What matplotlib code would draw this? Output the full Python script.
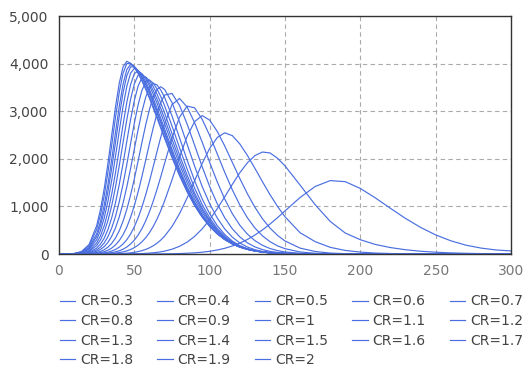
import matplotlib
matplotlib.use("Agg")
import matplotlib.pyplot as plt
from matplotlib.ticker import FuncFormatter, MultipleLocator

# x positions shared by every series
x = [0, 10, 15, 20, 25, 27.5, 30, 32.5, 35, 37.5, 40, 42.5, 45, 47.5, 50, 52.5, 55, 57.5,
     60, 62.5, 65, 67.5, 70, 75, 80, 85, 90, 95, 100, 105, 110, 115, 120, 125, 130, 135,
     140, 145, 150, 160, 170, 180, 190, 200, 210, 220, 230, 240, 250, 260, 270, 280, 290, 300]

labels = ["CR=0.3", "CR=0.4", "CR=0.5", "CR=0.6", "CR=0.7", "CR=0.8", "CR=0.9", "CR=1", "CR=1.1",
          "CR=1.2", "CR=1.3", "CR=1.4", "CR=1.5", "CR=1.6", "CR=1.7", "CR=1.8", "CR=1.9", "CR=2"]

cr03 = [0, 0, 0, 0, 0, 0, 0, 0, 0, 0, 0, 0, 0, 0, 0, 0, 0, 0,
        1, 1, 2, 3, 4, 6, 10, 16, 25, 38, 57, 84, 120, 168, 229, 305, 398, 506,
        629, 763, 906, 1188, 1419, 1543, 1520, 1377, 1178, 959, 747, 558, 401, 278, 186, 125, 85, 65]
cr04 = [0, 0, 0, 0, 0, 0, 0, 0, 0, 0, 0, 2, 3, 4, 5, 7, 10, 14,
        19, 26, 35, 46, 60, 101, 162, 250, 370, 528, 723, 951, 1203, 1462, 1708, 1917, 2068, 2143,
        2124, 2013, 1851, 1448, 1036, 684, 440, 300, 200, 135, 90, 58, 38, 24, 15, 9, 5, 3]
cr05 = [0, 0, 0, 0, 0, 0, 1, 2, 3, 5, 8, 12, 17, 25, 36, 51, 70, 96,
        130, 172, 226, 292, 372, 578, 848, 1176, 1539, 1902, 2220, 2447, 2547, 2488, 2313, 2073, 1801, 1520,
        1249, 1000, 782, 447, 260, 140, 75, 40, 20, 10, 5, 2, 0, 0, 0, 0, 0, 0]
cr06 = [0, 0, 0, 0, 2, 3, 5, 8, 13, 20, 30, 45, 66, 95, 134, 187, 255, 340,
        448, 577, 731, 908, 1108, 1559, 2037, 2470, 2782, 2909, 2813, 2578, 2269, 1928, 1587, 1267, 983, 742,
        546, 392, 274, 124, 53, 20, 7, 2, 0, 0, 0, 0, 0, 0, 0, 0, 0, 0]
cr07 = [0, 0, 0, 0, 4, 7, 11, 18, 29, 45, 68, 101, 147, 210, 292, 398, 531, 693,
        885, 1106, 1353, 1619, 1897, 2439, 2875, 3108, 3072, 2832, 2492, 2106, 1715, 1351, 1030, 762, 548, 383,
        260, 172, 112, 43, 15, 5, 1, 0, 0, 0, 0, 0, 0, 0, 0, 0, 0, 0]
cr08 = [0, 0, 0, 3, 9, 15, 24, 39, 62, 95, 144, 211, 301, 420, 572, 759, 982, 1240,
        1526, 1833, 2146, 2451, 2729, 3140, 3268, 3090, 2759, 2352, 1924, 1517, 1154, 849, 605, 419, 281, 183,
        116, 72, 43, 15, 4, 1, 0, 0, 0, 0, 0, 0, 0, 0, 0, 0, 0, 0]
cr09 = [0, 0, 2, 6, 17, 30, 49, 80, 125, 191, 282, 405, 566, 770, 1016, 1303, 1624, 1967,
        2316, 2649, 2945, 3182, 3340, 3374, 3122, 2734, 2286, 1835, 1418, 1057, 761, 531, 359, 235, 150, 93,
        56, 33, 19, 6, 2, 0, 0, 0, 0, 0, 0, 0, 0, 0, 0, 0, 0, 0]
cr10 = [0, 0, 3, 10, 32, 54, 90, 144, 224, 336, 489, 688, 938, 1238, 1581, 1954, 2339, 2708,
        3035, 3293, 3458, 3515, 3461, 3183, 2773, 2310, 1847, 1421, 1056, 758, 527, 355, 232, 147, 91, 54,
        33, 18, 10, 3, 1, 0, 0, 0, 0, 0, 0, 0, 0, 0, 0, 0, 0, 0]
cr11 = [0, 1, 5, 17, 56, 95, 155, 245, 374, 550, 780, 1068, 1410, 1795, 2205, 2612, 2985, 3290,
        3498, 3586, 3554, 3448, 3296, 2900, 2441, 1975, 1539, 1159, 845, 597, 409, 272, 176, 111, 68, 41,
        24, 14, 7, 2, 0, 0, 0, 0, 0, 0, 0, 0, 0, 0, 0, 0, 0, 0]
cr12 = [0, 2, 7, 26, 85, 143, 233, 365, 548, 791, 1099, 1467, 1882, 2321, 2751, 3134, 3433, 3614,
        3658, 3592, 3472, 3312, 3123, 2691, 2232, 1787, 1385, 1040, 759, 538, 370, 249, 163, 104, 65, 40,
        23, 14, 8, 2, 1, 0, 0, 0, 0, 0, 0, 0, 0, 0, 0, 0, 0, 0]
cr13 = [0, 2, 10, 38, 123, 207, 333, 515, 762, 1078, 1463, 1902, 2367, 2824, 3226, 3530, 3701, 3720,
        3645, 3522, 3363, 3176, 2971, 2529, 2081, 1659, 1284, 966, 708, 504, 351, 238, 157, 102, 65, 41,
        24, 15, 8, 3, 1, 0, 0, 0, 0, 0, 0, 0, 0, 0, 0, 0, 0, 0]
cr14 = [0, 3, 15, 56, 177, 294, 466, 705, 1018, 1407, 1857, 2342, 2822, 3250, 3575, 3759, 3780, 3709,
        3592, 3439, 3260, 3062, 2851, 2412, 1978, 1577, 1224, 926, 682, 491, 345, 238, 160, 105, 68, 43,
        26, 16, 10, 3, 1, 0, 0, 0, 0, 0, 0, 0, 0, 0, 0, 0, 0, 0]
cr15 = [0, 4, 20, 74, 231, 380, 594, 887, 1261, 1710, 2208, 2717, 3186, 3560, 3791, 3848, 3789, 3681,
        3536, 3364, 3171, 2964, 2748, 2308, 1884, 1496, 1158, 875, 645, 465, 327, 226, 152, 101, 65, 42,
        26, 16, 9, 3, 1, 0, 0, 0, 0, 0, 0, 0, 0, 0, 0, 0, 0, 0]
cr16 = [0, 5, 26, 97, 301, 489, 756, 1111, 1550, 2055, 2588, 3097, 3520, 3801, 3900, 3856, 3758, 3623,
        3458, 3271, 3068, 2855, 2637, 2202, 1789, 1416, 1094, 825, 609, 439, 310, 214, 145, 96, 63, 42,
        25, 16, 9, 3, 1, 0, 0, 0, 0, 0, 0, 0, 0, 0, 0, 0, 0, 0]
cr17 = [0, 7, 32, 120, 368, 594, 907, 1315, 1805, 2348, 2896, 3384, 3747, 3933, 3932, 3854, 3734, 3582,
        3406, 3211, 3004, 2789, 2571, 2141, 1737, 1375, 1063, 803, 594, 429, 305, 212, 145, 98, 64, 42,
        26, 16, 10, 3, 1, 0, 0, 0, 0, 0, 0, 0, 0, 0, 0, 0, 0, 0]
cr18 = [0, 8, 37, 139, 422, 676, 1025, 1469, 1993, 2557, 3105, 3567, 3876, 3985, 3942, 3848, 3717, 3557,
        3376, 3179, 2971, 2757, 2540, 2115, 1718, 1363, 1057, 802, 595, 433, 309, 216, 148, 100, 67, 44,
        27, 17, 11, 4, 1, 0, 0, 0, 0, 0, 0, 0, 0, 0, 0, 0, 0, 0]
cr19 = [0, 10, 46, 173, 516, 817, 1221, 1721, 2289, 2872, 3399, 3797, 4001, 4002, 3928, 3813, 3666, 3496,
        3307, 3106, 2896, 2682, 2468, 2050, 1663, 1319, 1024, 778, 579, 423, 303, 213, 147, 100, 66, 44,
        28, 18, 11, 4, 1, 0, 0, 0, 0, 0, 0, 0, 0, 0, 0, 0, 0, 0]
cr20 = [0, 10, 53, 201, 594, 931, 1372, 1908, 2502, 3090, 3591, 3930, 4050, 4009, 3919, 3793, 3639, 3464,
        3272, 3069, 2860, 2648, 2436, 2025, 1646, 1308, 1018, 776, 581, 426, 307, 217, 151, 103, 69, 46,
        30, 19, 12, 4, 2, 0, 0, 0, 0, 0, 0, 0, 0, 0, 0, 0, 0, 0]

series = [cr03, cr04, cr05, cr06, cr07, cr08, cr09, cr10, cr11,
          cr12, cr13, cr14, cr15, cr16, cr17, cr18, cr19, cr20]

line_color = "#4a6ee0"

fig = plt.figure(figsize=(5.3, 3.92), dpi=100)
ax = fig.add_axes([0.1113, 0.352, 0.853, 0.607])

handles = []
for ys, lab in zip(series, labels):
    h, = ax.plot(x, ys, color=line_color, lw=0.85, label=lab)
    handles.append(h)

ax.set_xlim(0, 300)
ax.set_ylim(0, 5000)
ax.xaxis.set_major_locator(MultipleLocator(50))
ax.yaxis.set_major_locator(MultipleLocator(1000))
ax.yaxis.set_major_formatter(FuncFormatter(lambda v, p: f"{int(v):,}"))
ax.grid(True, color="#aaaaaa", linestyle=(0, (4, 3)), linewidth=0.8)
ax.set_axisbelow(True)
ax.tick_params(length=0, pad=7.5, labelsize=10)
ax.tick_params(axis="y", labelcolor="#444444")
ax.tick_params(axis="x", labelcolor="#777777")
for sp in ax.spines.values():
    sp.set_color("#333333")
    sp.set_linewidth(1.0)

# legend reads row by row in the original, matplotlib fills column by column
order = [0, 5, 10, 15, 1, 6, 11, 16, 2, 7, 12, 17, 3, 8, 13, 4, 9, 14]
leg = fig.legend([handles[i] for i in order], [labels[i] for i in order],
                 loc="upper left", bbox_to_anchor=(0.113, 0.249), ncol=5, frameon=False,
                 fontsize=10, handlelength=1.1, handletextpad=0.35, columnspacing=1.75,
                 labelspacing=0.4, borderpad=0, borderaxespad=0)
for t in leg.get_texts():
    t.set_color("#444444")

fig.savefig("out.png", dpi=100)
